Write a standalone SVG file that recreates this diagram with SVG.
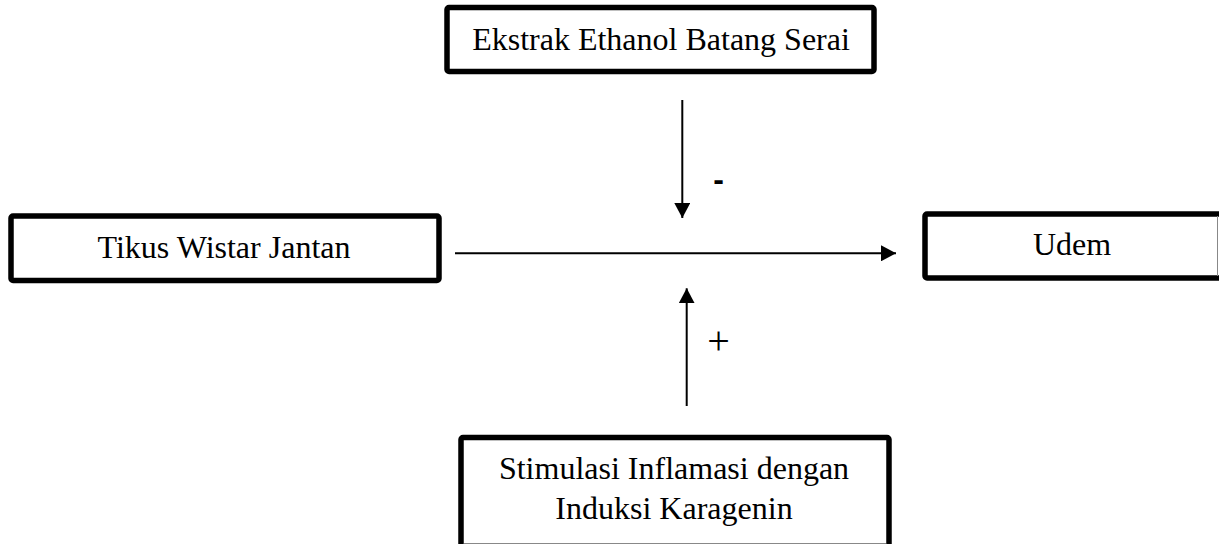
<svg xmlns="http://www.w3.org/2000/svg" width="1219" height="544" viewBox="0 0 1219 544">
<style>
.box{fill:#fff;stroke:#000;stroke-width:5.5;stroke-linejoin:round}
.t{font-family:"Liberation Serif","Times New Roman",serif;font-size:32px;fill:#000;text-anchor:middle}
.c{stroke:#000;stroke-width:2;fill:none}
.edge{stroke:#888;stroke-width:1}
</style>
<defs>
<marker id="ah" viewBox="0 0 15 16" refX="15" refY="8" markerWidth="15" markerHeight="16" markerUnits="userSpaceOnUse" orient="auto">
<path d="M0,0 L15,8 L0,16 Z" fill="#000"/>
</marker>
</defs>
<rect width="1219" height="544" fill="#fff"/>
<g id="node-ekstrak">
<rect class="box" x="447" y="7.5" width="427" height="64" rx="2"/>
<text class="t" x="661" y="50">Ekstrak Ethanol Batang Serai</text>
</g>
<g id="node-tikus">
<rect class="box" x="11" y="216" width="428" height="64.5" rx="2"/>
<text class="t" x="224" y="258">Tikus Wistar Jantan</text>
</g>
<g id="node-udem">
<rect class="box" x="925" y="214" width="300" height="64" rx="2"/>
<line class="edge" x1="1217.5" y1="216" x2="1217.5" y2="276"/>
<text class="t" x="1072" y="255">Udem</text>
</g>
<g id="node-stimulasi">
<rect class="box" x="461" y="437.5" width="428" height="120" rx="2"/>
<line class="edge" x1="464" y1="543.5" x2="886" y2="543.5"/>
<text class="t" x="674" y="479">Stimulasi Inflamasi dengan</text>
<text class="t" x="674" y="519">Induksi Karagenin</text>
</g>
<g id="connectors">
<line class="c" x1="455" y1="253.3" x2="896" y2="253.3" marker-end="url(#ah)"/>
<line class="c" x1="682.3" y1="100" x2="682.3" y2="218" marker-end="url(#ah)"/>
<line class="c" x1="686.7" y1="406" x2="686.7" y2="288.3" marker-end="url(#ah)"/>
<text x="718.5" y="190" font-family="'Liberation Sans',Arial,sans-serif" font-size="32" font-weight="bold" text-anchor="middle">-</text>
<text x="718.5" y="354" font-family="'Liberation Serif','Times New Roman',serif" font-size="40" text-anchor="middle">+</text>
</g>
</svg>
